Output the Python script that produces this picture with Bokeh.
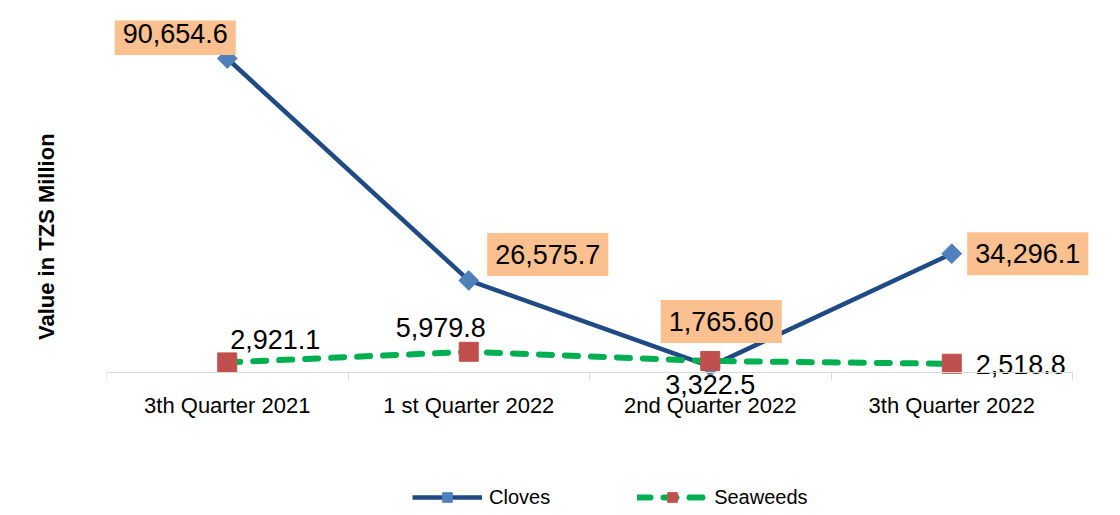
import numpy as np
from bokeh.plotting import figure
from bokeh.layouts import column
from bokeh.models import ColumnDataSource, FixedTicker, Legend, LegendItem, Range1d
from bokeh.core.properties import value
from bokeh.embed import file_html
from bokeh.resources import INLINE

# ---- data ----
categories = ["3th Quarter 2021", "1 st Quarter 2022", "2nd Quarter 2022", "3th Quarter 2022"]
cloves = [90654.6, 26575.7, 1765.60, 34296.1]
seaweeds = [2921.1, 5979.8, 3322.5, 2518.8]
cloves_labels = ["90,654.6", "26,575.7", "1,765.60", "34,296.1"]
seaweeds_labels = ["2,921.1", "5,979.8", "3,322.5", "2,518.8"]
series_names = ["Cloves", "Seaweeds"]
y_title = "Value in TZS Million"

# ---- label placement (screen px offsets) ----
cloves_dx = [-52, 79, 11, 76]
cloves_dy = [-25, -26, -45, 0]
sea_dx = [48, -28, 0, 69]
sea_dy = [-23, -24, 24, 1]

# ---- layout constants ----
W = 1112
H_MAIN, H_LEG = 480, 33
LEFT, TOP = 106, 20                    # frame edges (px)
ZERO_Y = 372                           # pixel row of value 0 (category axis)
FRAME_BOTTOM = 428                     # frame extends below the axis so low labels show
CAT_W = 241.5                          # px per category
FRAME_RIGHT = 1100
Y_END = 101625
YTITLE_PAD = 4                         # non-breaking spaces that push the y title down

FONT = "Liberation Sans"
xpos = list(range(1, len(categories) + 1))
y_start = -(FRAME_BOTTOM - ZERO_Y) / (ZERO_Y - TOP) * Y_END

# ---- styles ----
CL_LINE = dict(line_color="#1F4A83", line_width=4.5)
CL_MARK = dict(marker="square", angle=np.pi / 4, size=14, fill_color="#4F81BD", line_color="#4F81BD")
SW_LINE = dict(line_color="#00B050", line_width=6, line_dash="13 13", line_cap="round")
SW_MARK = dict(marker="square", size=19, fill_color="#C0504D", line_color="#C0504D")

src_c = ColumnDataSource(dict(x=xpos, y=cloves, label=cloves_labels, dx=cloves_dx, dy=cloves_dy))
src_s = ColumnDataSource(dict(x=xpos, y=seaweeds, label=seaweeds_labels, dx=sea_dx, dy=sea_dy))

p = figure(width=W, height=H_MAIN,
           x_range=Range1d(0.5, 0.5 + (FRAME_RIGHT - LEFT) / CAT_W),
           y_range=Range1d(y_start, Y_END),
           output_backend="svg", toolbar_location=None,
           min_border_left=LEFT, min_border_right=W - FRAME_RIGHT,
           min_border_top=TOP, min_border_bottom=H_MAIN - FRAME_BOTTOM)
p.outline_line_color = None
p.xgrid.visible = False
p.ygrid.visible = False
p.background_fill_color = "white"
p.border_fill_color = "white"

# x axis drawn at value 0: labels at category centres, ticks at boundaries
xa = p.xaxis[0]
xa.fixed_location = 0
xa.bounds = (0.5, len(categories) + 0.5)
xa.ticker = FixedTicker(ticks=xpos, minor_ticks=[v - 0.5 for v in xpos] + [xpos[-1] + 0.5])
xa.major_label_overrides = {v: c for v, c in zip(xpos, categories)}
xa.major_tick_line_color = None
xa.major_tick_out = 0
xa.major_tick_in = 0
xa.minor_tick_line_color = "#D9D9D9"
xa.minor_tick_out = 8
xa.minor_tick_in = 0
xa.axis_line_color = "#D9D9D9"
xa.major_label_text_font = FONT
xa.major_label_text_font_size = "22px"
xa.major_label_text_color = "black"
xa.major_label_standoff = 12

ya = p.yaxis[0]
ya.ticker = FixedTicker(ticks=[])
ya.axis_line_color = None
ya.major_tick_line_color = None
ya.minor_tick_line_color = None
ya.major_tick_out = 0
ya.major_label_standoff = 0
ya.axis_label = y_title + "\u00a0" * YTITLE_PAD
ya.axis_label_text_font = FONT
ya.axis_label_text_font_style = "bold"
ya.axis_label_text_font_size = "22px"
ya.axis_label_text_color = "black"
ya.axis_label_standoff = 48

# ---- series ----
p.line("x", "y", source=src_c, **CL_LINE)
p.scatter("x", "y", source=src_c, **CL_MARK)
p.line("x", "y", source=src_s, **SW_LINE)
p.scatter("x", "y", source=src_s, **SW_MARK)

# ---- data labels ----
p.text("x", "y", text="label", source=src_c, x_offset="dx", y_offset="dy",
       text_align="center", text_baseline="middle",
       text_font=value(FONT), text_font_size="27px", text_color="black",
       background_fill_color="#FAC090",
       padding=dict(left=8, right=8, top=12, bottom=12))
p.text("x", "y", text="label", source=src_s, x_offset="dx", y_offset="dy",
       text_align="center", text_baseline="middle",
       text_font=value(FONT), text_font_size="27px", text_color="black")

# ---- legend strip (below the chart); its ranges keep the series out of view ----
lg = figure(width=W, height=H_LEG, x_range=Range1d(-10, -9), y_range=Range1d(-10, -9),
            x_axis_type=None, y_axis_type=None,
            output_backend="svg", toolbar_location=None,
            min_border_left=0, min_border_right=0, min_border_top=0, min_border_bottom=0)
lg.outline_line_color = None
lg.xgrid.visible = False
lg.ygrid.visible = False
r1 = lg.line("x", "y", source=src_c, **CL_LINE)
r2 = lg.scatter("x", "y", source=src_c, **CL_MARK)
r3 = lg.line("x", "y", source=src_s, **SW_LINE)
r4 = lg.scatter("x", "y", source=src_s, **SW_MARK)
legend = Legend(items=[LegendItem(label=series_names[0], renderers=[r1, r2]),
                       LegendItem(label=series_names[1], renderers=[r3, r4])],
                location=(412 - LEFT, 4), orientation="horizontal",
                glyph_width=70, glyph_height=24, label_height=24,
                label_standoff=7, spacing=87, padding=0, margin=0,
                border_line_color=None, background_fill_alpha=0,
                label_text_font=FONT, label_text_font_size="20px",
                label_text_color="black")
lg.add_layout(legend)

layout = column(p, lg, spacing=0)
open("out.html", "w").write(file_html(layout, INLINE))
